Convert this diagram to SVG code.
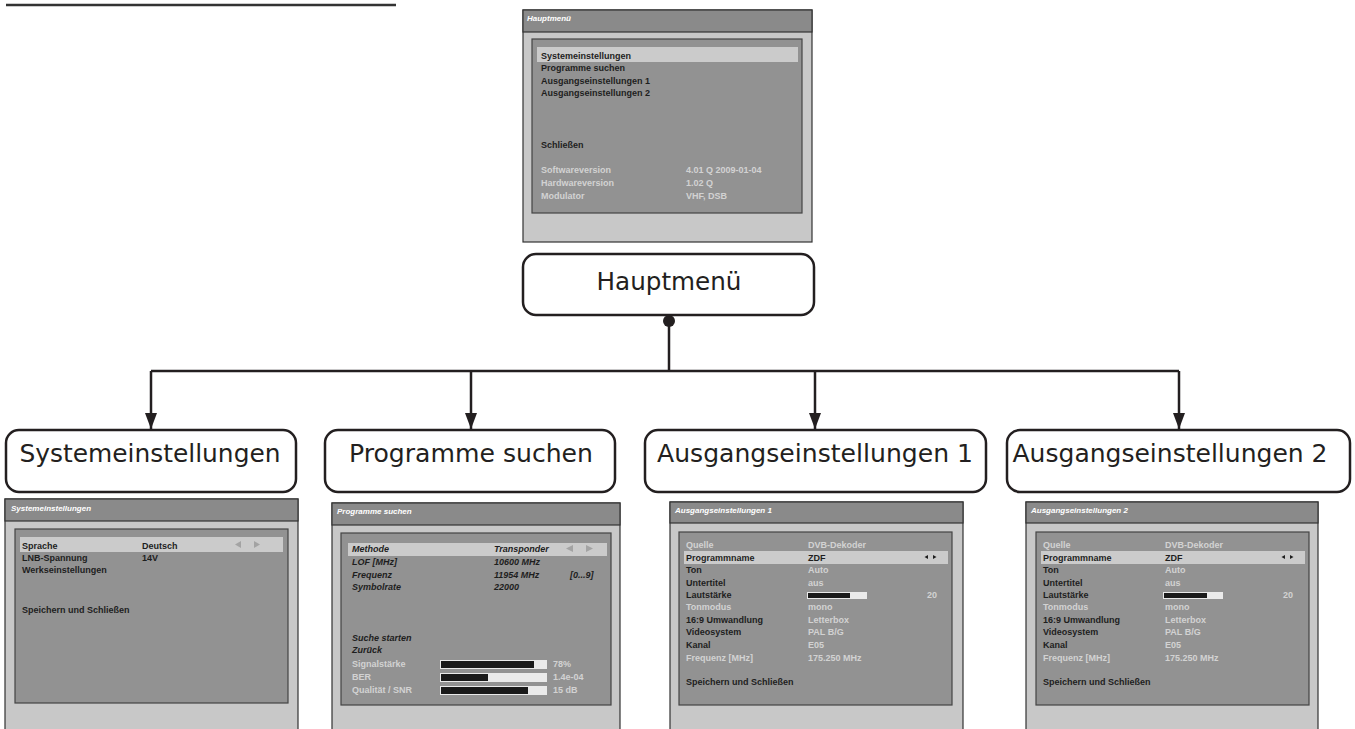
<svg xmlns="http://www.w3.org/2000/svg" width="1355" height="729" viewBox="0 0 1355 729">
<defs>
<marker id="arr" markerWidth="16" markerHeight="12" refX="16" refY="6" orient="auto" markerUnits="userSpaceOnUse" viewBox="0 0 16 12">
<path d="M0,0 L16,6 L0,12 Z" fill="#231f20"/>
</marker>
<style>
.node{fill:#fff;stroke:#231f20;stroke-width:2.5}
.nl{font-family:"DejaVu Sans",Verdana,sans-serif;font-size:25px;fill:#231f20;text-anchor:middle}
.outer{fill:#c8c8c8;stroke:#333;stroke-width:1.2}
.tbar{fill:#8a8a8a;stroke:#333;stroke-width:1.2}
.inner{fill:#929292;stroke:#444;stroke-width:1.2}
.hl{fill:#cbcbcb}
.tt{font-family:"Liberation Sans",Arial,sans-serif;font-size:8px;font-weight:bold;font-style:italic;fill:#fff}
.d{font-family:"Liberation Sans",Arial,sans-serif;font-size:9px;font-weight:bold;fill:#1e1e1e}
.l{font-family:"Liberation Sans",Arial,sans-serif;font-size:9px;font-weight:bold;fill:#d2d2d2}
.di{font-family:"Liberation Sans",Arial,sans-serif;font-size:9px;font-weight:bold;font-style:italic;fill:#1e1e1e}
.bbg{fill:#eaeaea}
.bfg{fill:#1a1a1a}
.tri{fill:#a3a3a3}
.conn{fill:none;stroke:#231f20;stroke-width:2.5}
</style>
</defs>
<rect width="1355" height="729" fill="#fff"/>
<line x1="6" y1="5" x2="396" y2="5" stroke="#333" stroke-width="2.3"/>

<g id="screen-hauptmenu">
<rect class="outer" x="523" y="10" width="289" height="232"/>
<rect class="tbar" x="523" y="10" width="289" height="22"/>
<rect class="inner" x="532" y="39" width="270" height="174"/>
<rect class="hl" x="537" y="47" width="261" height="15"/>
<text class="tt" x="527" y="21">Hauptmenü</text>
<text class="d" x="541" y="59">Systemeinstellungen</text>
<text class="d" x="541" y="71">Programme suchen</text>
<text class="d" x="541" y="84">Ausgangseinstellungen 1</text>
<text class="d" x="541" y="96">Ausgangseinstellungen 2</text>
<text class="d" x="541" y="148">Schließen</text>
<text class="l" x="541" y="173">Softwareversion</text>
<text class="l" x="541" y="186">Hardwareversion</text>
<text class="l" x="541" y="199">Modulator</text>
<text class="l" x="686" y="173">4.01 Q 2009-01-04</text>
<text class="l" x="686" y="186">1.02 Q</text>
<text class="l" x="686" y="199">VHF, DSB</text>
</g>

<g id="node-hauptmenu">
<rect class="node" x="523" y="254" width="291" height="61" rx="13"/>
<text class="nl" x="669" y="290" font-size="23" textLength="145" lengthAdjust="spacingAndGlyphs">Hauptmenü</text>
</g>

<g id="connectors">
<circle cx="669" cy="321" r="6" fill="#231f20"/>
<line class="conn" x1="669" y1="321" x2="669" y2="371"/>
<line class="conn" x1="151" y1="371" x2="1179" y2="371"/>
<line class="conn" x1="151" y1="371" x2="151" y2="429" marker-end="url(#arr)"/>
<line class="conn" x1="471" y1="371" x2="471" y2="429" marker-end="url(#arr)"/>
<line class="conn" x1="815" y1="371" x2="815" y2="429" marker-end="url(#arr)"/>
<line class="conn" x1="1179" y1="371" x2="1179" y2="429" marker-end="url(#arr)"/>
</g>

<g id="node-system">
<rect class="node" x="6" y="430" width="290" height="62" rx="13"/>
<text class="nl" x="150" y="462" textLength="261" lengthAdjust="spacingAndGlyphs">Systemeinstellungen</text>
</g>
<g id="node-programme">
<rect class="node" x="325" y="430" width="290" height="62" rx="13"/>
<text class="nl" x="471" y="462" textLength="244" lengthAdjust="spacingAndGlyphs">Programme suchen</text>
</g>
<g id="node-ausgang1">
<rect class="node" x="645" y="430" width="341" height="62" rx="13"/>
<text class="nl" x="815" y="462" textLength="316" lengthAdjust="spacingAndGlyphs">Ausgangseinstellungen 1</text>
</g>
<g id="node-ausgang2">
<rect class="node" x="1007" y="430" width="343" height="62" rx="13"/>
<text class="nl" x="1170" y="462" textLength="315" lengthAdjust="spacingAndGlyphs">Ausgangseinstellungen 2</text>
</g>

<g id="screen-system">
<rect class="outer" x="5" y="499" width="293" height="240"/>
<rect class="tbar" x="5" y="499" width="293" height="22"/>
<rect class="inner" x="15" y="529" width="273" height="174"/>
<rect class="hl" x="20" y="537" width="263" height="15"/>
<text class="tt" x="11" y="511">Systemeinstellungen</text>
<text class="d" x="22" y="549">Sprache</text>
<text class="d" x="142" y="549">Deutsch</text>
<polygon class="tri" points="241,541 241,548 235,544.5"/>
<polygon class="tri" points="254,541 254,548 260,544.5"/>
<text class="d" x="22" y="561">LNB-Spannung</text>
<text class="d" x="142" y="561">14V</text>
<text class="d" x="22" y="573">Werkseinstellungen</text>
<text class="d" x="22" y="613">Speichern und Schließen</text>
</g>

<g id="screen-programme">
<rect class="outer" x="332" y="503" width="288" height="236"/>
<rect class="tbar" x="332" y="503" width="288" height="22"/>
<rect class="inner" x="341" y="533" width="270" height="172"/>
<rect class="hl" x="348" y="543" width="259" height="13"/>
<text class="tt" x="337" y="514">Programme suchen</text>
<text class="di" x="352" y="552">Methode</text>
<text class="di" x="494" y="552">Transponder</text>
<polygon class="tri" points="573,545 573,552 566,548.5"/>
<polygon class="tri" points="586,545 586,552 593,548.5"/>
<text class="di" x="352" y="565">LOF [MHz]</text>
<text class="di" x="494" y="565">10600 MHz</text>
<text class="di" x="352" y="578">Frequenz</text>
<text class="di" x="494" y="578">11954 MHz</text>
<text class="di" x="570" y="578">[0...9]</text>
<text class="di" x="352" y="590">Symbolrate</text>
<text class="di" x="494" y="590">22000</text>
<text class="di" x="352" y="641">Suche starten</text>
<text class="di" x="352" y="653">Zurück</text>
<text class="l" x="352" y="667">Signalstärke</text>
<text class="l" x="352" y="680">BER</text>
<text class="l" x="352" y="693">Qualität / SNR</text>
<rect class="bbg" x="440" y="660" width="107" height="9"/>
<rect class="bfg" x="441" y="661" width="93" height="7"/>
<rect class="bbg" x="440" y="673" width="107" height="9"/>
<rect class="bfg" x="441" y="674" width="47" height="7"/>
<rect class="bbg" x="440" y="686" width="107" height="9"/>
<rect class="bfg" x="441" y="687" width="87" height="7"/>
<text class="l" x="553" y="667">78%</text>
<text class="l" x="553" y="680">1.4e-04</text>
<text class="l" x="553" y="693">15 dB</text>
</g>

<g id="screen-ausgang1">
<rect class="outer" x="670" y="502" width="293" height="237"/>
<rect class="tbar" x="670" y="502" width="293" height="21"/>
<rect class="inner" x="679" y="532" width="273" height="173"/>
<rect class="hl" x="684" y="551" width="264" height="13"/>
<text class="tt" x="675" y="513">Ausgangseinstellungen 1</text>
<text class="l" x="686" y="548">Quelle</text>
<text class="l" x="808" y="548">DVB-Dekoder</text>
<text class="d" x="686" y="561">Programmname</text>
<text class="d" x="808" y="561">ZDF</text>
<polygon points="928,555 928,559 924.5,557" fill="#1e1e1e"/>
<polygon points="933,555 933,559 936.5,557" fill="#1e1e1e"/>
<text class="d" x="686" y="573">Ton</text>
<text class="l" x="808" y="573">Auto</text>
<text class="d" x="686" y="586">Untertitel</text>
<text class="l" x="808" y="586">aus</text>
<text class="d" x="686" y="598">Lautstärke</text>
<rect class="bbg" x="807" y="592" width="60" height="7"/>
<rect class="bfg" x="808" y="593" width="42" height="5"/>
<text class="l" x="927" y="598">20</text>
<text class="l" x="686" y="610">Tonmodus</text>
<text class="l" x="808" y="610">mono</text>
<text class="d" x="686" y="623">16:9 Umwandlung</text>
<text class="l" x="808" y="623">Letterbox</text>
<text class="d" x="686" y="635">Videosystem</text>
<text class="l" x="808" y="635">PAL B/G</text>
<text class="d" x="686" y="648">Kanal</text>
<text class="l" x="808" y="648">E05</text>
<text class="l" x="686" y="661">Frequenz [MHz]</text>
<text class="l" x="808" y="661">175.250 MHz</text>
<text class="d" x="686" y="685">Speichern und Schließen</text>
</g>

<g id="screen-ausgang2">
<rect class="outer" x="1026" y="502" width="292" height="237"/>
<rect class="tbar" x="1026" y="502" width="292" height="21"/>
<rect class="inner" x="1036" y="532" width="273" height="173"/>
<rect class="hl" x="1041" y="551" width="264" height="13"/>
<text class="tt" x="1031" y="513">Ausgangseinstellungen 2</text>
<text class="l" x="1043" y="548">Quelle</text>
<text class="l" x="1165" y="548">DVB-Dekoder</text>
<text class="d" x="1043" y="561">Programmname</text>
<text class="d" x="1165" y="561">ZDF</text>
<polygon points="1285,555 1285,559 1281.5,557" fill="#1e1e1e"/>
<polygon points="1290,555 1290,559 1293.5,557" fill="#1e1e1e"/>
<text class="d" x="1043" y="573">Ton</text>
<text class="l" x="1165" y="573">Auto</text>
<text class="d" x="1043" y="586">Untertitel</text>
<text class="l" x="1165" y="586">aus</text>
<text class="d" x="1043" y="598">Lautstärke</text>
<rect class="bbg" x="1163" y="592" width="60" height="7"/>
<rect class="bfg" x="1164" y="593" width="43" height="5"/>
<text class="l" x="1283" y="598">20</text>
<text class="l" x="1043" y="610">Tonmodus</text>
<text class="l" x="1165" y="610">mono</text>
<text class="d" x="1043" y="623">16:9 Umwandlung</text>
<text class="l" x="1165" y="623">Letterbox</text>
<text class="d" x="1043" y="635">Videosystem</text>
<text class="l" x="1165" y="635">PAL B/G</text>
<text class="d" x="1043" y="648">Kanal</text>
<text class="l" x="1165" y="648">E05</text>
<text class="l" x="1043" y="661">Frequenz [MHz]</text>
<text class="l" x="1165" y="661">175.250 MHz</text>
<text class="d" x="1043" y="685">Speichern und Schließen</text>
</g>
</svg>
